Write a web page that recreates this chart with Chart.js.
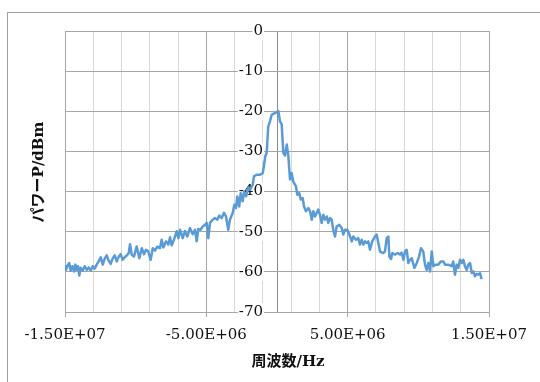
<!DOCTYPE html>
<html>
<head>
<meta charset="utf-8">
<script src="https://cdn.jsdelivr.net/npm/chart.js@4"></script>
<style>
  html, body { margin: 0; padding: 0; background: #fff; }
  #wrap { width: 540px; height: 382px; }
</style>
</head>
<body>
<div id="wrap"><canvas id="spectrum" width="540" height="382"></canvas></div>
<script>
/* ===========================
   DATA
=========================== */
// frequency offset in MHz
const freqMHz = [
  -15.00, -14.93, -14.84, -14.70, -14.60, -14.48, -14.36, -14.27, -14.17, -14.08,
  -13.99, -13.89, -13.75, -13.61, -13.46, -13.32, -13.18, -13.04, -12.90, -12.76,
  -12.62, -12.47, -12.33, -12.19, -12.05, -11.91, -11.77, -11.62, -11.48, -11.34,
  -11.20, -11.06, -10.92, -10.78, -10.63, -10.49, -10.40,
  -10.28, -10.12, -9.93, -9.74, -9.57, -9.41, -9.27, -9.11, -8.94, -8.79,
  -8.63, -8.47, -8.28, -8.16, -8.04, -7.85, -7.69, -7.57, -7.45, -7.29,
  -7.10, -6.98, -6.86, -6.67, -6.51, -6.35, -6.16, -5.96, -5.80, -5.68,
  -5.57, -5.40, -5.26,
  -5.09, -4.97, -4.86, -4.74, -4.55, -4.39, -4.22, -4.08, -3.91, -3.75,
  -3.61, -3.45, -3.33, -3.13, -3.02, -2.90, -2.81, -2.67, -2.57, -2.43,
  -2.33, -2.19, -2.03, -1.91, -1.72, -1.63, -1.44, -1.20,
  -1.01, -0.92, -0.83, -0.73, -0.62, -0.50, -0.38, -0.26, -0.15, 0.02,
  0.10, 0.21, 0.33, 0.45, 0.57, 0.69, 0.80, 0.92, 1.04, 1.15, 1.34,
  1.44, 1.58, 1.68, 1.82, 1.91, 2.05, 2.22, 2.34, 2.46, 2.57,
  2.69, 2.81, 2.92, 3.04, 3.16, 3.28, 3.40, 3.52, 3.63, 3.75,
  3.87, 3.98, 4.10, 4.22, 4.41, 4.58, 4.69, 4.81, 4.97, 5.12,
  5.29, 5.40, 5.59, 5.75, 5.87, 5.99, 6.11, 6.23,
  6.35, 6.46, 6.58, 6.74, 6.93, 7.05, 7.17, 7.29, 7.41, 7.52,
  7.64, 7.76, 7.88, 7.95, 8.07, 8.16, 8.35, 8.54, 8.70, 8.82,
  8.94, 9.06, 9.18, 9.29, 9.41, 9.53, 9.72, 9.89, 10.05, 10.19,
  10.35, 10.47, 10.59, 10.71, 10.83, 10.95, 11.06, 11.18, 11.41, 11.60,
  11.77, 11.89, 12.12, 12.36, 12.47, 12.59, 12.71, 12.83, 12.95, 13.07,
  13.18, 13.30, 13.42, 13.54, 13.66, 13.78, 13.89, 14.01, 14.13, 14.24,
  14.36, 14.48
];

// power in dBm
const powerDbm = [
  -58.6, -59.5, -58.6, -57.8, -59.7, -58.6, -59.9, -58.2, -59.5, -58.6,
  -60.9, -59.0, -59.7, -58.6, -59.5, -58.9, -59.7, -58.6, -59.2, -58.2,
  -57.4, -56.4, -58.2, -56.7, -55.9, -57.2, -58.0, -56.6, -55.9, -57.4,
  -56.2, -55.6, -57.0, -56.4, -55.9, -55.3, -53.1,
  -55.7, -56.2, -53.7, -56.6, -54.1, -55.6, -54.5, -54.9, -57.0, -54.1,
  -54.7, -53.7, -54.1, -52.0, -53.9, -52.4, -53.2, -51.4, -53.4, -52.0,
  -49.9, -51.6, -49.5, -51.6, -49.8, -51.2, -49.1, -50.6, -49.5, -52.4,
  -49.3, -49.5, -48.7,
  -48.3, -47.8, -51.6, -47.8, -47.0, -46.6, -47.0, -46.0, -46.6, -45.3,
  -46.2, -49.5, -47.0, -45.3, -43.3, -44.1, -41.2, -43.7, -40.4, -42.4,
  -40.0, -41.2, -39.1, -39.5, -38.3, -36.2, -35.8, -35.8,
  -35.4, -33.5, -31.2, -30.4, -23.8, -22.5, -20.9, -20.6, -20.5, -20.1,
  -20.0, -22.5, -23.2, -30.4, -31.0, -28.3, -31.0, -37.0, -35.4, -37.5, -38.7,
  -40.8, -40.4, -42.0, -41.6, -43.7, -44.9, -44.1, -44.9, -47.0, -44.9,
  -46.2, -45.3, -44.5, -45.8, -47.8, -45.8, -47.0, -46.2, -47.8, -46.6,
  -47.0, -49.5, -51.2, -48.7, -48.3, -49.1, -50.7, -49.5, -49.5, -50.7,
  -52.4, -51.2, -52.0, -51.6, -53.2, -52.0, -53.2, -52.4,
  -52.8, -52.4, -54.5, -52.4, -51.2, -50.7, -52.8, -54.9, -55.2, -55.3,
  -54.9, -51.6, -51.2, -56.2, -56.8, -55.3, -55.7, -55.3, -55.7, -55.2,
  -57.0, -54.9, -54.5, -57.8, -57.0, -56.6, -59.0, -57.8, -56.2, -54.1,
  -54.9, -58.2, -59.5, -57.8, -59.9, -54.9, -58.6, -58.2, -58.2, -57.4,
  -57.4, -58.2, -58.2, -58.6, -57.4, -60.7, -58.2, -59.0, -57.0, -57.8,
  -57.0, -58.6, -59.5, -58.2, -57.8, -60.3, -59.9, -61.1, -60.5, -60.7,
  -60.3, -61.8
];

// x grid lines (MHz); labelled ones below
const xGridMHz = [-15, -13, -11, -9, -7, -5, -3, -1, 0, 1, 3, 5, 7, 9, 11, 13, 15];
const xLabelMHz = [-15, -5, 5, 15];
const xTickLabels = ["-1.50E+07", "-5.00E+06", "5.00E+06", "1.50E+07"];

const yMin = -70, yMax = 0, yStep = 10;

const xTitle = "周波数/Hz";
const yTitle = "パワーP/dBm";

/* ===========================
   STYLE
=========================== */
const lineBlue  = "#5b9bd5";
const gridMajor = "#a6a6a6";
const gridMinor = "#d9d9d9";
const axisZero  = "#8a8a8a";
const textCol   = "#111";
const serif     = "'DejaVu Serif', 'Noto Sans CJK JP', serif";

/* ===========================
   PLUGINS
=========================== */
const frame = {
  id: "frame",
  beforeDraw(chart) {
    const ctx = chart.ctx;
    ctx.save();
    ctx.fillStyle = "#fff";
    ctx.fillRect(0, 0, chart.width, chart.height);
    ctx.strokeStyle = "#a0a0a0";
    ctx.lineWidth = 1;
    ctx.strokeRect(7.5, 12.5, 700, 500);
    ctx.restore();
  },
  afterDraw(chart) {
    const ctx = chart.ctx;
    ctx.save();
    ctx.fillStyle = textCol;
    ctx.font = "bold 15px " + serif;
    ctx.textAlign = "center";
    ctx.textBaseline = "middle";
    ctx.fillText(xTitle, 288, 362);
    ctx.translate(39, 172);
    ctx.rotate(-Math.PI / 2);
    ctx.fillText(yTitle, 0, 0);
    ctx.restore();
  }
};

/* ===========================
   CHART
=========================== */
const points = freqMHz.map((f, i) => ({ x: f, y: powerDbm[i] }));

new Chart(document.getElementById("spectrum"), {
  type: "line",
  data: {
    datasets: [{
      data: points,
      borderColor: lineBlue,
      borderWidth: 2.5,
      borderJoinStyle: "round",
      pointRadius: 0,
      tension: 0,
      fill: false
    }]
  },
  options: {
    responsive: false,
    animation: false,
    layout: { padding: { left: 65, right: 51, top: 31, bottom: 0 } },
    plugins: { legend: { display: false }, tooltip: { enabled: false } },
    scales: {
      x: {
        type: "linear",
        min: -15,
        max: 15,
        afterBuildTicks: s => { s.ticks = xGridMHz.map(v => ({ value: v })); },
        afterFit: s => { s.height = 70; },
        grid: {
          color: c => c.tick.value === 0 ? axisZero
                    : (xLabelMHz.includes(c.tick.value) ? gridMajor : gridMinor),
          tickColor: c => xLabelMHz.includes(c.tick.value) ? gridMajor : "rgba(0,0,0,0)",
          tickLength: 5
        },
        border: { color: gridMajor },
        ticks: {
          autoSkip: false,
          maxRotation: 0,
          padding: 9,
          color: textCol,
          font: { family: serif, size: 15 },
          callback: v => {
            const i = xLabelMHz.indexOf(v);
            return i >= 0 ? xTickLabels[i] : "";
          }
        }
      },
      y: {
        type: "linear",
        position: { x: -0.99 },
        min: yMin,
        max: yMax,
        grid: { color: gridMajor, drawTicks: false },
        border: { display: false },
        ticks: {
          stepSize: yStep,
          color: textCol,
          font: { family: serif, size: 15 },
          showLabelBackdrop: true,
          backdropColor: "#fff",
          backdropPadding: { x: 1, y: 0 }
        }
      }
    }
  },
  plugins: [frame]
});
</script>
</body>
</html>
